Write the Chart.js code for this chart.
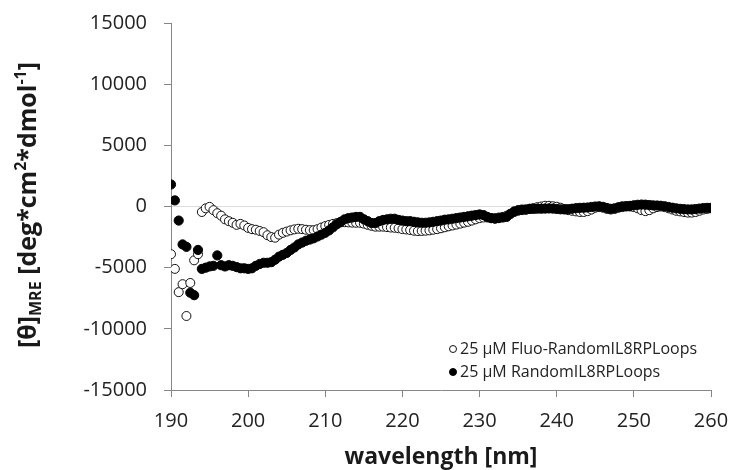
<!DOCTYPE html>
<html>
<head>
<meta charset="utf-8">
<script src="https://cdn.jsdelivr.net/npm/chart.js@4"></script>
<style>
    body { margin: 0; background: #fff; }
    #wrap { width: 732px; height: 470px; }
</style>
</head>
<body>
<div id="wrap"><canvas id="chart" width="732" height="470"></canvas></div>
<script>
// wavelength grid of the CD scan (nm)
const wlStart = 190;
const wlStep = 0.5;

// series labels
const seriesNames = ['25 µM Fluo-RandomIL8RPLoops', '25 µM RandomIL8RPLoops'];

// [θ]MRE, one value per 0.5 nm, 190 -> 260
const fluoValues = [
    -3900, -5100, -7000, -6350, -8950, -6250, -4400, -3900, -450, -150,
    -30, -300, -550, -750, -1050, -1200, -1330, -1500, -1420, -1550,
    -1750, -1850, -1900, -2000, -2100, -2350, -2500, -2550, -2300, -2150,
    -2050, -1950, -1870, -1820, -1850, -1900, -1930, -1930, -1850, -1720,
    -1600, -1500, -1420, -1350, -1300, -1280, -1300, -1320, -1330, -1330,
    -1400, -1500, -1580, -1650, -1650, -1650, -1680, -1720, -1740, -1780,
    -1850, -1880, -1920, -1980, -2010, -2000, -1980, -1950, -1900, -1850,
    -1780, -1700, -1620, -1550, -1480, -1400, -1320, -1250, -1150, -1050,
    -950, -900, -900, -950, -950, -900, -850, -750, -600, -450,
    -350, -300, -250, -180, -120, -50, 0, 60, 60, 20,
    -20, -100, -200, -300, -350, -400, -450, -450, -380, -250,
    -100, -50, -100, -200, -250, -200, -100, -50, 0, 0,
    -50, -150, -300, -380, -300, -150, -50, 0, -50, -150,
    -250, -350, -400, -450, -500, -500, -450, -350, -250, -200,
    -150
];

const plainValues = [
    1800, 500, -1150, -3100, -3300, -7050, -7250, -3550, -5100, -5000,
    -4900, -4850, -4000, -4800, -4900, -4800, -4850, -4950, -5050, -5050,
    -5100, -5050, -4850, -4700, -4600, -4600, -4550, -4350, -4100, -3950,
    -3800, -3550, -3350, -3100, -2950, -2800, -2700, -2600, -2450, -2300,
    -2150, -1950, -1700, -1450, -1250, -1050, -950, -900, -850, -850,
    -1050, -1200, -1350, -1350, -1200, -1100, -1050, -1000, -1000, -1100,
    -1150, -1200, -1200, -1250, -1300, -1330, -1330, -1300, -1250, -1200,
    -1150, -1080, -1050, -1000, -950, -900, -850, -800, -750, -700,
    -650, -700, -850, -950, -1000, -950, -900, -850, -600, -400,
    -300, -250, -250, -200, -200, -180, -180, -170, -160, -170,
    -200, -230, -240, -220, -180, -140, -110, -100, -80, -40,
    0, 20, -30, -120, -190, -150, -60, 10, 30, 50,
    100, 140, 160, 150, 120, 90, 80, 60, 20, -40,
    -100, -150, -190, -220, -240, -240, -210, -170, -130, -110,
    -110
];

// axis ranges
const xMin = 190, xMax = 260, xStep = 10;
const yMin = -15000, yMax = 15000, yStep = 5000;

const FONT = '"Open Sans", "DejaVu Sans", sans-serif';

function toPoints(values) {
    return values.map((v, i) => ({ x: wlStart + i * wlStep, y: v }));
}

// y axis title with subscript / superscripts
const yTitlePlugin = {
    id: 'yTitle',
    afterDraw(chart) {
        const ctx = chart.ctx;
        const main = 'bold 25px ' + FONT;
        const small = 'bold 16px ' + FONT;
        const parts = [
            { t: '[θ]', f: main, dy: 0 },
            { t: 'MRE', f: small, dy: 5 },
            { t: ' [deg*cm', f: main, dy: 0 },
            { t: '2', f: small, dy: -10 },
            { t: '*dmol', f: main, dy: 0 },
            { t: '-1', f: small, dy: -10 },
            { t: ']', f: main, dy: 0 }
        ];
        let total = 0;
        parts.forEach(p => { ctx.font = p.f; p.w = ctx.measureText(p.t).width; total += p.w; });
        ctx.save();
        ctx.translate(36, 205);
        ctx.rotate(-Math.PI / 2);
        ctx.fillStyle = '#1a1a1a';
        ctx.textBaseline = 'alphabetic';
        let x = -total / 2;
        parts.forEach(p => {
            ctx.font = p.f;
            ctx.fillText(p.t, x, p.dy);
            x += p.w;
        });
        ctx.restore();
    }
};

// legend drawn inside the plot, lower right
const legendPlugin = {
    id: 'innerLegend',
    afterDatasetsDraw(chart) {
        const ctx = chart.ctx;
        const rows = [349, 372];
        ctx.save();
        ctx.font = '16px ' + FONT;
        ctx.textBaseline = 'middle';
        chart.data.datasets.forEach((ds, i) => {
            ctx.beginPath();
            ctx.arc(453, rows[i], 3.5, 0, Math.PI * 2);
            ctx.fillStyle = ds.backgroundColor;
            ctx.fill();
            ctx.lineWidth = 1;
            ctx.strokeStyle = ds.borderColor;
            ctx.stroke();
            ctx.fillStyle = '#222';
            ctx.fillText(ds.label, 460, rows[i]);
        });
        ctx.restore();
    }
};

const ctx = document.getElementById('chart').getContext('2d');

new Chart(ctx, {
    type: 'scatter',
    data: {
        datasets: [
            {
                label: seriesNames[0],
                data: toPoints(fluoValues),
                backgroundColor: '#ffffff',
                borderColor: '#111111',
                borderWidth: 1,
                pointRadius: 4.5,
                order: 1
            },
            {
                label: seriesNames[1],
                data: toPoints(plainValues),
                backgroundColor: '#000000',
                borderColor: '#000000',
                borderWidth: 1,
                pointRadius: 4.6,
                order: 0
            }
        ]
    },
    options: {
        responsive: false,
        animation: false,
        layout: { padding: { left: 0, right: 21, top: 23, bottom: 0 } },
        plugins: {
            legend: { display: false },
            tooltip: { enabled: false }
        },
        scales: {
            x: {
                type: 'linear',
                min: xMin,
                max: xMax,
                ticks: {
                    stepSize: xStep,
                    padding: 12,
                    color: '#222',
                    font: { family: FONT, size: 20 },
                    callback: v => String(v)
                },
                grid: { drawOnChartArea: false, tickLength: 7, tickColor: '#868686' },
                border: { color: '#868686', width: 1 },
                title: {
                    display: true,
                    text: 'wavelength [nm]',
                    color: '#1a1a1a',
                    font: { family: FONT, size: 23, weight: 'bold' },
                    padding: { top: 0, bottom: -1 }
                },
                afterFit(scale) {
                    scale.height = 80;
                    scale.paddingLeft = 0;
                    scale.paddingRight = 0;
                }
            },
            y: {
                min: yMin,
                max: yMax,
                ticks: {
                    stepSize: yStep,
                    padding: 17,
                    color: '#222',
                    font: { family: FONT, size: 20 },
                    callback: v => String(v)
                },
                grid: {
                    color: c => c.tick && c.tick.value === 0 ? '#dcdcdc' : 'rgba(0,0,0,0)',
                    tickColor: '#868686',
                    tickLength: 7
                },
                border: { color: '#868686', width: 1 },
                afterFit(scale) {
                    scale.width = 171;
                    scale.paddingTop = 0;
                    scale.paddingBottom = 0;
                }
            }
        }
    },
    plugins: [yTitlePlugin, legendPlugin]
});
</script>
</body>
</html>
